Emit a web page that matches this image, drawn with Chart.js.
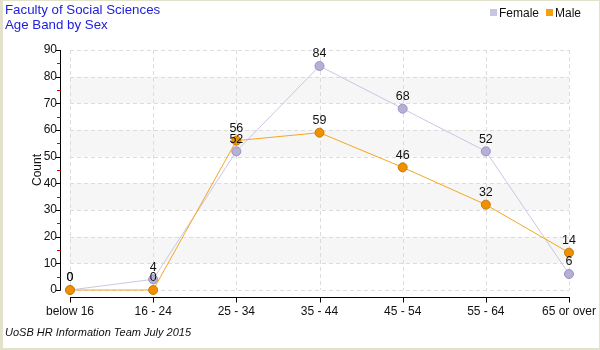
<!DOCTYPE html>
<html><head><meta charset="utf-8">
<script src="https://cdn.jsdelivr.net/npm/chart.js@4/dist/chart.umd.min.js"></script>
<style>html,body{margin:0;padding:0;background:#fff}canvas{display:block}</style>
</head><body>
<canvas id="c" width="600" height="350"></canvas>
<script>
const categories = ['below 16','16 - 24','25 - 34','35 - 44','45 - 54','55 - 64','65 or over'];
const female = [0,4,52,84,68,52,6];
const male = [0,0,56,59,46,32,14];
const yTicks = [0,10,20,30,40,50,60,70,80,90];
const titleLines = ['Faculty of Social Sciences','Age Band by Sex'];
const footerText = 'UoSB HR Information Team July 2015';
const yTitle = 'Count';

const FONT = "'Liberation Sans', Arial, sans-serif";
Chart.defaults.font.family = FONT;

const deco = {
  id:'deco',
  beforeDatasetsDraw(chart){
    const {ctx, chartArea:a, scales:{x,y}} = chart;
    ctx.save();
    ctx.fillStyle = '#f6f6f6';
    for (let v=10; v<90; v+=20){
      const t = y.getPixelForValue(v+10), b = y.getPixelForValue(v);
      ctx.fillRect(a.left, t, a.right-a.left, b-t);
    }
    ctx.strokeStyle = '#dcdcdc'; ctx.lineWidth = 1; ctx.setLineDash([4,3]);
    yTicks.forEach(v=>{
      const py = Math.round(y.getPixelForValue(v))+0.5;
      ctx.beginPath(); ctx.moveTo(a.left, py); ctx.lineTo(a.right, py); ctx.stroke();
    });
    categories.forEach((c,i)=>{
      const px = Math.round(x.getPixelForValue(i))+0.5;
      ctx.beginPath(); ctx.moveTo(px, y.getPixelForValue(90)); ctx.lineTo(px, y.getPixelForValue(0)); ctx.stroke();
    });
    ctx.setLineDash([]);
    ctx.restore();
  },
  afterDatasetsDraw(chart){
    const {ctx, chartArea:a, scales:{x,y}} = chart;
    ctx.save();
    const ax = 60.5;
    ctx.strokeStyle = '#000'; ctx.lineWidth = 1;
    ctx.beginPath(); ctx.moveTo(ax, y.getPixelForValue(90)); ctx.lineTo(ax, Math.round(y.getPixelForValue(0))+0.5); ctx.stroke();
    yTicks.forEach(v=>{
      const py = Math.round(y.getPixelForValue(v))+0.5;
      ctx.beginPath(); ctx.moveTo(56, py); ctx.lineTo(ax, py); ctx.stroke();
    });
    ctx.strokeStyle = '#e00000';
    for (let v=5; v<90; v+=10){
      const py = Math.round(y.getPixelForValue(v))+0.5;
      ctx.beginPath(); ctx.moveTo(57, py); ctx.lineTo(ax, py); ctx.stroke();
    }
    ctx.strokeStyle = '#000';
    const ay = Math.round(a.bottom)+0.5;
    ctx.beginPath(); ctx.moveTo(x.getPixelForValue(0), ay); ctx.lineTo(x.getPixelForValue(categories.length-1)+1, ay); ctx.stroke();
    categories.forEach((c,i)=>{
      const px = Math.round(x.getPixelForValue(i))+0.5;
      ctx.beginPath(); ctx.moveTo(px, ay); ctx.lineTo(px, ay+5); ctx.stroke();
    });
    ctx.fillStyle = '#111'; ctx.font = '12.5px '+FONT; ctx.textAlign='center'; ctx.textBaseline='middle';
    chart.data.datasets.forEach((ds,di)=>{
      const meta = chart.getDatasetMeta(di);
      meta.data.forEach((pt,i)=>{
        ctx.fillText(String(ds.data[i]), pt.x, pt.y-12);
      });
    });
    ctx.save();
    ctx.translate(38, (y.getPixelForValue(90)+y.getPixelForValue(0))/2);
    ctx.rotate(-Math.PI/2);
    ctx.fillStyle='#111'; ctx.font='12px '+FONT;
    ctx.fillText(yTitle, 0, 0);
    ctx.restore();
    ctx.restore();
  },
  afterDraw(chart){
    const {ctx, width, height} = chart;
    ctx.save();
    ctx.fillStyle = '#2020e0'; ctx.font = '13.3px '+FONT; ctx.textAlign='left'; ctx.textBaseline='alphabetic';
    ctx.fillText(titleLines[0], 5, 14);
    ctx.fillText(titleLines[1], 5, 29);
    ctx.font = '12px '+FONT; ctx.fillStyle='#111';
    const items = [[chart.data.datasets[1].label,'#c8c4e4'],[chart.data.datasets[0].label,'#f5a010']];
    let lx = 490;
    items.forEach(([lab,col])=>{
      ctx.fillStyle = col; ctx.fillRect(lx, 9, 7, 7);
      ctx.fillStyle = '#111'; ctx.fillText(lab, lx+9, 17);
      lx += 9 + ctx.measureText(lab).width + 7;
    });
    ctx.font = 'italic 11px '+FONT; ctx.fillStyle='#111';
    ctx.fillText(footerText, 5, 336);
    ctx.fillStyle = '#e2e2cc';
    ctx.fillRect(0,0,3,height);
    ctx.fillRect(0,0,width,1);
    ctx.fillRect(width-1,0,1,height);
    ctx.fillRect(0,height-2,width,2);
    ctx.restore();
  }
};

new Chart(document.getElementById('c'), {
  type:'line',
  data:{
    labels: categories,
    datasets:[
      {label:'Male', data: male, order:0, borderColor:'#f5a623', backgroundColor:'#f09000', pointBackgroundColor:'#f09000', pointBorderColor:'#c87a00', borderWidth:1, pointRadius:4.5, pointBorderWidth:1, tension:0},
      {label:'Female', data: female, order:1, borderColor:'#cac6e4', backgroundColor:'#b4b0d6', pointBackgroundColor:'#b4b0d6', pointBorderColor:'#9892c0', borderWidth:1, pointRadius:4.5, pointBorderWidth:1, tension:0}
    ]
  },
  options:{
    responsive:false, animation:false,
    layout:{padding:{top:50,right:31,left:0,bottom:0}},
    plugins:{legend:{display:false}, title:{display:false}, tooltip:{enabled:false}},
    scales:{
      x:{
        grid:{display:false, drawTicks:false}, border:{display:false},
        ticks:{color:'#111', font:{size:12}, padding:7, maxRotation:0, autoSkip:false},
        afterFit(s){ s.height = 53; s.paddingLeft = 0; s.paddingRight = 0; }
      },
      y:{
        min:-2.625, max:90,
        grid:{display:false, drawTicks:false}, border:{display:false},
        ticks:{color:'#111', font:{size:12}, padding:13, stepSize:10},
        afterBuildTicks(s){ s.ticks = yTicks.map(v=>({value:v})); },
        afterFit(s){ s.width = 70; }
      }
    }
  },
  plugins:[deco]
});
</script>
</body></html>
